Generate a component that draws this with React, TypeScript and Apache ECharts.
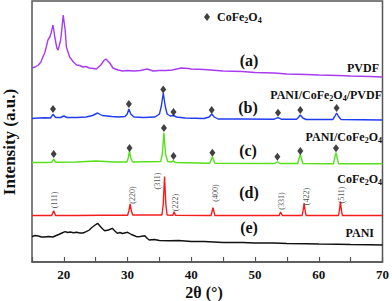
import React, { useEffect, useRef } from 'react';
import * as echarts from 'echarts';

const FONT = "'Times New Roman', 'Liberation Serif', serif";

// 2θ (degrees) vs. offset intensity (a.u.)
const pvdf: number[][] = [
  [15, 194], [15.5, 195], [16.0, 197], [16.4, 200], [16.7, 205], [17.0, 209], [17.2, 214], [17.5, 222],
  [17.8, 225], [18.0, 229], [18.3, 237], [18.6, 224], [18.9, 214], [19.1, 212], [19.5, 222], [19.7, 234],
  [19.9, 247], [20.2, 232], [20.4, 215], [20.9, 205], [21.5, 200], [22.0, 197], [22.5, 196.5], [23.0, 195],
  [23.5, 195.5], [24.0, 194], [24.6, 193.5], [25.1, 193], [25.8, 197], [26.3, 201.5], [26.6, 203],
  [27.2, 199], [27.7, 194], [28.5, 192], [29.2, 191], [30.0, 191.5], [31.0, 191], [32.0, 191.5],
  [33.1, 193], [34.0, 191], [35.0, 191.5], [36.0, 191.5], [37.0, 192], [38.4, 194], [39.5, 193.5],
  [40.0, 193], [42.0, 192.5], [45.0, 191], [48.0, 190.5], [50.0, 189.5], [53.0, 189], [55.0, 188],
  [58.0, 187.5], [60.0, 187], [63.0, 186.5], [65.0, 186], [68.0, 185.5], [70.0, 185],
];

const composite: number[][] = [
  [15, 143.5], [16, 144], [17, 144.3], [17.9, 144], [18.3, 147.7], [18.7, 144.5], [19.5, 144.5],
  [20, 146], [20.5, 144.5], [22, 144.5], [23.5, 145], [24.5, 146.5], [25.3, 149], [26.0, 146.5],
  [26.8, 146], [27.5, 145.5], [28.5, 145], [29.6, 145.5], [29.95, 148], [30.2, 153], [30.5, 148],
  [31, 145], [32.5, 144.5], [34.3, 145], [35.0, 148], [35.3, 156], [35.6, 169], [35.9, 156],
  [36.2, 148], [36.7, 146], [37.2, 146.5], [37.7, 145], [39, 144], [42, 143.5], [42.8, 145],
  [43.2, 148], [43.6, 145], [44.2, 143], [48, 143], [53, 142.8], [53.6, 144.3], [54.2, 142.7],
  [56.5, 142.7], [56.8, 144.5], [57.1, 147], [57.5, 144], [58, 142.5], [62.2, 142.5], [62.5, 145.5],
  [62.8, 149], [63.1, 145.5], [63.5, 142.5], [70, 142],
];

const paniFerrite: number[][] = [
  [15, 99.5], [17, 99.5], [18.1, 99.8], [18.4, 103], [18.7, 99.8], [22, 100], [25, 101], [28, 100],
  [29.9, 100], [30.1, 104], [30.3, 111], [30.5, 104], [30.8, 100], [35.2, 100.5], [35.45, 108],
  [35.7, 129.3], [35.95, 108], [36.3, 100.5], [36.9, 100], [37.2, 101.3], [37.5, 99.5], [42.9, 98.8],
  [43.3, 105.3], [43.7, 98.8], [53.1, 98.5], [53.5, 100.3], [53.9, 98.5], [56.7, 98.5], [57.1, 107.7],
  [57.5, 98.5], [62.3, 98.3], [62.7, 109.3], [63.1, 98.3], [70, 98.3],
];

const ferrite: number[][] = [
  [15, 46.5], [16.5, 46.5], [18.1, 46.5], [18.4, 51.3], [18.7, 46.5], [22, 46.5], [26, 46.8], [30.0, 46.8],
  [30.2, 51], [30.4, 58], [30.6, 51], [30.8, 47], [35.4, 47], [35.6, 58], [35.8, 85.5], [36.0, 58],
  [36.2, 47], [37.1, 46.8], [37.3, 50.3], [37.5, 46.8], [43.1, 46.5], [43.4, 54.3], [43.7, 46.5],
  [53.8, 46.5], [54.0, 50], [54.3, 46.5], [57.4, 46.5], [57.55, 52], [57.7, 58.7], [57.85, 52],
  [58.0, 46.5], [63.1, 46.5], [63.25, 52], [63.4, 60.3], [63.55, 52], [63.7, 46.5], [70, 46.5],
];

const pani: number[][] = [
  [15, 25.5], [15.5, 26.5], [16, 26], [16.5, 25], [17, 25], [17.6, 25.5], [18.3, 25], [18.8, 26.5],
  [19.2, 27.5], [19.7, 29], [20.2, 30.3], [20.6, 29.5], [21, 30], [21.5, 29.2], [22, 29.7], [22.5, 29],
  [23, 29], [23.5, 30.3], [24.0, 32], [24.3, 34], [24.8, 36.5], [25.3, 38.7], [25.8, 35], [26.1, 33],
  [26.4, 31.3], [27.0, 32], [27.6, 33.7], [28.0, 31], [28.4, 28.7], [28.8, 29.5], [29.2, 28.5],
  [30.0, 29.7], [30.6, 27.5], [31.0, 26.5], [31.4, 25.3], [32.0, 25.5], [32.7, 26.3], [33.1, 23.5],
  [33.4, 22], [34.2, 22.5], [35, 21.5], [36.6, 21.3], [38, 21.5], [40, 20.5], [42, 20.5], [45, 19.5],
  [48, 19.5], [50, 19], [53, 19], [55, 18.5], [58, 18.3], [60, 18], [63, 17.8], [65, 17.5], [68, 17.3],
  [70, 17],
];

const compositeMarkers: number[][] = [
  [18.3, 153], [30.2, 158], [35.6, 172.5], [37.2, 150], [43.2, 152], [53.6, 149.3], [57.1, 152], [62.8, 154],
];
const paniFerriteMarkers: number[][] = [
  [18.4, 108], [30.3, 114], [35.7, 134], [37.2, 106], [43.3, 109.3], [53.5, 105.3], [57.1, 111], [62.7, 113.7],
];

const millerNames = ['(111)', '(220)', '(311)', '(222)', '(400)', '(331)', '(422)', '(511)'];
const millerPos: number[][] = [
  [18.6, 62], [30.7, 67], [34.7, 81], [37.45, 59.5], [43.85, 69], [54.2, 61], [58.0, 65.5], [63.6, 67],
];

const xTicks = [20, 30, 40, 50, 60, 70];

const richSub = {
  n: { fontFamily: FONT, fontWeight: 'bold', fontSize: 12, lineHeight: 14, color: '#111', verticalAlign: 'middle' },
  s: { fontFamily: FONT, fontWeight: 'bold', fontSize: 8, lineHeight: 4, color: '#111', verticalAlign: 'bottom' },
};

const tag = (x: number, y: number, t: string) => ({
  type: 'text', x, y,
  style: { text: t, fontFamily: FONT, fontWeight: 'bold', fontSize: 16, fill: '#111', align: 'center', verticalAlign: 'middle' },
});
const name = (x: number, y: number, t: string) => ({
  type: 'text', x, y,
  style: { text: t, rich: richSub, align: 'right', verticalAlign: 'middle', fill: '#111' },
});

export default function App() {
  const ref = useRef<HTMLDivElement>(null);
  useEffect(() => {
    const chart = echarts.init(ref.current!, null, { renderer: 'svg' });
    const lineSeries = (nm: string, data: number[][], color: string) => ({
      type: 'line', name: nm, data, showSymbol: false, symbol: 'none',
      lineStyle: { color, width: 1.4 }, itemStyle: { color }, z: 2,
    });
    const markerSeries = (data: number[][]) => ({
      type: 'scatter', name: 'CoFe2O4', data, symbol: 'diamond', symbolSize: [6, 8],
      itemStyle: { color: '#111' }, z: 3,
    });
    chart.setOption({
      animation: false,
      backgroundColor: '#fff',
      grid: { left: 32, right: 8, top: 1, bottom: 39, show: true, borderColor: '#555', borderWidth: 1.5, backgroundColor: 'transparent' },
      legend: {
        data: ['CoFe2O4'], left: 199, top: 6, icon: 'diamond', itemWidth: 6, itemHeight: 8, itemGap: 4,
        formatter: () => '{n|CoFe}{s|2}{n|O}{s|4}',
        textStyle: { rich: richSub, padding: [0, 0, 0, 2] },
      },
      xAxis: {
        type: 'value', min: 15, max: 70, interval: 5,
        axisLine: { show: true, lineStyle: { color: '#555', width: 1.5 } },
        axisTick: { show: true, inside: true, length: 5, lineStyle: { color: '#555', width: 1.2 } },
        splitLine: { show: false },
        axisLabel: {
          formatter: (v: number) => (xTicks.includes(v) ? String(v) : ''),
          fontFamily: FONT, fontWeight: 'bold', fontSize: 13, color: '#111', margin: 6,
        },
      },
      yAxis: {
        type: 'value', min: 0, max: 261,
        axisLine: { show: false }, axisTick: { show: false }, axisLabel: { show: false }, splitLine: { show: false },
      },
      graphic: [
        {
          type: 'text', x: 9, y: 142, rotation: Math.PI / 2,
          style: { text: 'Intensity (a.u.)', fontFamily: FONT, fontWeight: 'bold', fontSize: 17, fill: '#111', align: 'center', verticalAlign: 'middle' },
        },
        {
          type: 'text', x: 204, y: 292,
          style: { text: '2θ (°)', fontFamily: FONT, fontWeight: 'bold', fontSize: 16, fill: '#111', align: 'center', verticalAlign: 'middle' },
        },
        tag(249, 60, '(a)'), tag(248, 107, '(b)'), tag(248, 150, '(c)'), tag(249, 192, '(d)'), tag(249, 227, '(e)'),
        name(379, 68, '{n|PVDF}'),
        name(382, 95, '{n|PANI/CoFe}{s|2}{n|O}{s|4}{n|/PVDF}'),
        name(382, 137, '{n|PANI/CoFe}{s|2}{n|O}{s|4}'),
        name(382, 179, '{n|CoFe}{s|2}{n|O}{s|4}'),
        name(374, 233, '{n|PANI}'),
      ],
      series: [
        lineSeries('PVDF', pvdf, '#a83cf0'),
        lineSeries('PANI/CoFe2O4/PVDF', composite, '#1f3cf5'),
        lineSeries('PANI/CoFe2O4', paniFerrite, '#55e01a'),
        lineSeries('CoFe2O4 (d)', ferrite, '#f51c1c'),
        lineSeries('PANI', pani, '#111'),
        markerSeries(compositeMarkers),
        markerSeries(paniFerriteMarkers),
        {
          type: 'scatter', name: 'hkl', symbolSize: 0, z: 4,
          data: millerPos.map((p, i) => ({ value: p, name: millerNames[i] })),
          label: {
            show: true, position: 'inside', rotate: 90, formatter: '{b}',
            fontFamily: FONT, fontSize: 8, color: '#222',
          },
        },
      ],
    });
    return () => chart.dispose();
  }, []);
  return <div ref={ref} style={{ position: 'fixed', left: 0, top: 0, width: 392, height: 301, background: '#fff' }} />;
}
